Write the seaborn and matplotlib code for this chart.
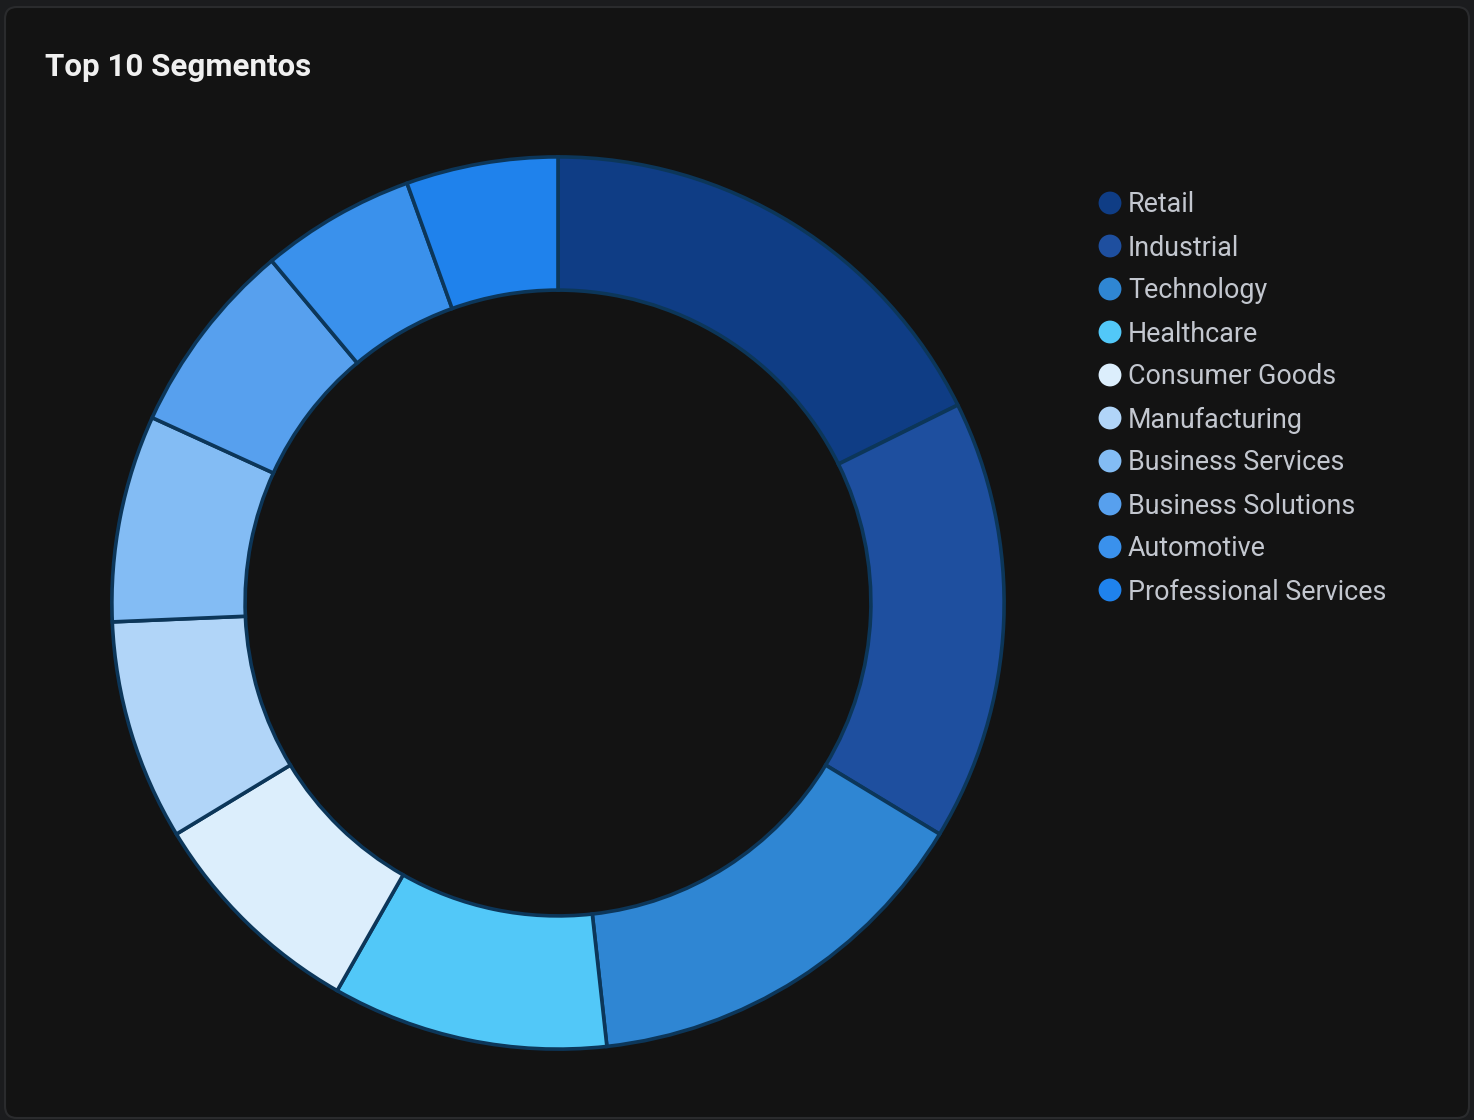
import matplotlib
matplotlib.use("Agg")
import matplotlib.pyplot as plt
import seaborn as sns
from matplotlib.patches import FancyBboxPatch

# data (clockwise from 12 o'clock)
segments = ['Retail', 'Industrial', 'Technology', 'Healthcare', 'Consumer Goods',
            'Manufacturing', 'Business Services', 'Business Solutions', 'Automotive',
            'Professional Services']
counts = [177, 160, 146, 100, 81, 80, 75, 71, 56, 55]
colors = ['#0f3d85', '#1e4f9f', '#2f86d3', '#52c8f8', '#dceefc',
          '#b1d5f8', '#83bcf4', '#57a0ee', '#3a91ec', '#1f82ec']

sns.set_theme(style="dark")
plt.rcParams['font.family'] = ['Roboto', 'DejaVu Sans']

W, H = 1474, 1120
fig = plt.figure(figsize=(W / 100, H / 100), dpi=100)
fig.patch.set_facecolor('#1b1c1e')

# panel background
bg = fig.add_axes([0, 0, 1, 1])
bg.set_xlim(0, W)
bg.set_ylim(H, 0)
bg.axis('off')
bg.add_patch(FancyBboxPatch((5, 7), W - 10, H - 9, boxstyle="round,pad=0,rounding_size=12",
                            facecolor='#131313', edgecolor='#2a2b2d', linewidth=1.5))

bg.text(45, 67, 'Top 10 Segmentos', color='#f0f0f0', fontsize=22.5, fontweight='bold',
        va='center', ha='left')

# donut
cx, cy, r = 558, 603, 447
ax = fig.add_axes([(cx - r) / W, (H - cy - r) / H, 2 * r / W, 2 * r / H])
ax.set_facecolor('none')
ax.pie(counts, colors=sns.color_palette(colors), startangle=90, counterclock=False,
       radius=0.998, wedgeprops=dict(width=0.298, edgecolor='#0c3659', linewidth=2.6))
ax.set_xlim(-1, 1)
ax.set_ylim(-1, 1)
ax.set_aspect('equal')
ax.axis('off')

# legend
for i, (name, c) in enumerate(zip(segments, colors)):
    y = 203 + 43 * i
    bg.scatter([1110], [y], s=270, color=c, edgecolors='none', zorder=3)
    bg.text(1128, y + 2, name, color='#c3c7cf', fontsize=19.4, va='center', ha='left')

fig.savefig('out.png', dpi=100, facecolor=fig.get_facecolor())
